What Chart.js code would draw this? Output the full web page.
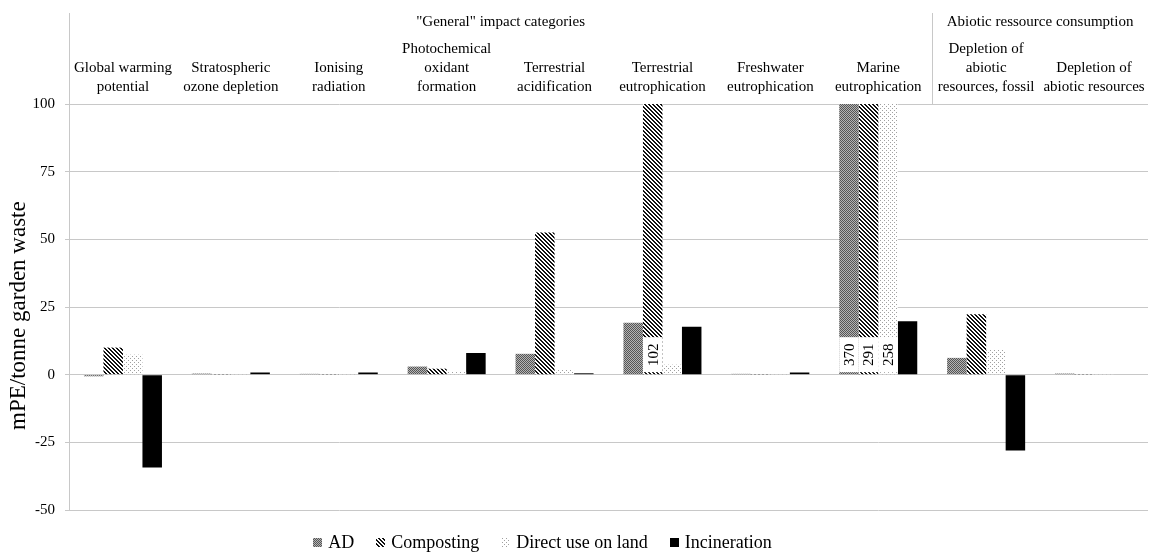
<!DOCTYPE html>
<html>
<head>
<meta charset="utf-8">
<script src="https://cdn.jsdelivr.net/npm/chart.js@4.4.1/dist/chart.umd.min.js"></script>
<style>
  html, body { margin: 0; padding: 0; background: #fff; }
  #wrap { width: 1149px; height: 552px; }
</style>
</head>
<body>
<div id="wrap"><canvas id="chart"></canvas></div>
<script>
// categories (multi-line labels shown above the plot)
const categories = [
  ['Global warming', 'potential'],
  ['Stratospheric', 'ozone depletion'],
  ['Ionising', 'radiation'],
  ['Photochemical', 'oxidant', 'formation'],
  ['Terrestrial', 'acidification'],
  ['Terrestrial', 'eutrophication'],
  ['Freshwater', 'eutrophication'],
  ['Marine', 'eutrophication'],
  ['Depletion of', 'abiotic', 'resources, fossil'],
  ['Depletion of', 'abiotic resources']
];
const groupNames = ['"General" impact categories', 'Abiotic ressource consumption'];
const groupSizes = [8, 2];

const seriesNames = ['AD', 'Composting', 'Direct use on land', 'Incineration'];
const adValues          = [-0.6, 0.4, 0.3, 3.0, 7.7, 19.2, 0.3, 370, 6.2, 0.4];
const compostingValues  = [10.0, 0.1, 0.1, 2.2, 52.5, 102, 0.1, 291, 22.3, 0.1];
const directValues      = [7.4, 0.3, 0.3, 1.0, 1.8, 3.7, 0.3, 258, 9.2, 0.3];
const incinerationValues = [-34.3, 0.8, 0.8, 8.0, 0.5, 17.7, 0.8, 19.7, -28.0, 0.0];

const yTicks = [-50, -25, 0, 25, 50, 75, 100];

const FONT = "'Liberation Serif', 'Times New Roman', serif";
const GRID = '#c8c8c8';

const canvas = document.getElementById('chart');
const ctx = canvas.getContext('2d');

// little bitmap fills, like the Excel pattern fills
function makePattern(size, paint) {
  const c = document.createElement('canvas');
  c.width = size;
  c.height = size;
  const g = c.getContext('2d');
  g.fillStyle = '#fff';
  g.fillRect(0, 0, size, size);
  paint(g, size);
  return ctx.createPattern(c, 'repeat');
}

const adFill = makePattern(2, function(g) {
  g.fillStyle = '#555';
  g.fillRect(0, 0, 1, 1);
  g.fillRect(1, 1, 1, 1);
  g.fillStyle = '#b4b4b4';
  g.fillRect(1, 0, 1, 1);
  g.fillRect(0, 1, 1, 1);
});
const compostFill = makePattern(4, function(g, s) {
  g.fillStyle = '#111';
  for (let y = 0; y < s; y++) {
    for (let x = 0; x < s; x++) {
      if (((x - y) % 4 + 4) % 4 < 2) g.fillRect(x, y, 1, 1);
    }
  }
});
const directFill = makePattern(4, function(g) {
  g.fillStyle = '#a0a0a0';
  g.fillRect(0, 0, 1, 1);
  g.fillRect(2, 2, 1, 1);
});
const fills = [adFill, compostFill, directFill, '#000'];
const seriesValues = [adValues, compostingValues, directValues, incinerationValues];

// header above the plot: group titles + separators
const headerPlugin = {
  id: 'header',
  afterDraw(chart) {
    const { ctx, chartArea } = chart;
    const xs = chart.scales.x;
    const topY = 13;
    ctx.save();
    ctx.strokeStyle = GRID;
    ctx.lineWidth = 1;
    ctx.beginPath();
    ctx.moveTo(Math.round(chartArea.left) + 0.5, topY);
    ctx.lineTo(Math.round(chartArea.left) + 0.5, chartArea.top);
    ctx.stroke();

    ctx.font = '15px ' + FONT;
    ctx.fillStyle = '#000';
    ctx.textAlign = 'center';
    ctx.textBaseline = 'middle';
    let start = 0;
    groupNames.forEach(function(name, gi) {
      const end = start + groupSizes[gi] - 1;
      const left = start === 0 ? chartArea.left : (xs.getPixelForValue(start - 1) + xs.getPixelForValue(start)) / 2;
      const right = end === categories.length - 1 ? chartArea.right : (xs.getPixelForValue(end) + xs.getPixelForValue(end + 1)) / 2;
      ctx.fillText(name, (left + right) / 2, 22);
      if (start > 0) {
        ctx.beginPath();
        ctx.moveTo(Math.round(left) + 0.5, topY);
        ctx.lineTo(Math.round(left) + 0.5, chartArea.top);
        ctx.stroke();
      }
      start = end + 1;
    });
    ctx.restore();
  }
};

// values beyond the axis max are written at the base of the clipped bar
const overflowPlugin = {
  id: 'overflow',
  afterDatasetsDraw(chart) {
    const { ctx } = chart;
    const yMax = chart.scales.y.max;
    ctx.save();
    chart.data.datasets.forEach(function(ds, i) {
      const meta = chart.getDatasetMeta(i);
      ds.data.forEach(function(v, j) {
        if (v <= yMax) return;
        const bar = meta.data[j];
        ctx.fillStyle = '#fff';
        ctx.fillRect(bar.x - bar.width / 2, bar.base - 37, bar.width, 35);
        ctx.save();
        ctx.translate(bar.x, bar.base - 19.5);
        ctx.rotate(-Math.PI / 2);
        ctx.font = '15px ' + FONT;
        ctx.fillStyle = '#000';
        ctx.textAlign = 'center';
        ctx.textBaseline = 'middle';
        ctx.fillText(String(v), 0, 1);
        ctx.restore();
      });
    });
    ctx.restore();
  }
};

// legend at the bottom
const legendPlugin = {
  id: 'bottomLegend',
  afterDraw(chart) {
    const { ctx } = chart;
    const box = 9, gapText = 6, gapItem = 22, cy = 543;
    ctx.save();
    ctx.font = '18px ' + FONT;
    const widths = chart.data.datasets.map(function(ds) { return box + gapText + ctx.measureText(ds.label).width; });
    const total = widths.reduce(function(a, b) { return a + b; }, 0) + gapItem * (widths.length - 1);
    let x = 542.5 - total / 2;
    chart.data.datasets.forEach(function(ds, i) {
      ctx.fillStyle = ds.backgroundColor;
      ctx.fillRect(Math.round(x), cy - 5, box, box);
      ctx.fillStyle = '#000';
      ctx.textAlign = 'left';
      ctx.textBaseline = 'middle';
      ctx.fillText(ds.label, x + box + gapText, cy);
      x += widths[i] + gapItem;
    });
    ctx.restore();
  }
};

new Chart(ctx, {
  type: 'bar',
  data: {
    labels: categories,
    datasets: seriesNames.map(function(name, i) {
      return {
        label: name,
        data: seriesValues[i],
        backgroundColor: fills[i],
        borderWidth: 0,
        barPercentage: 1,
        categoryPercentage: 0.723
      };
    })
  },
  options: {
    responsive: true,
    maintainAspectRatio: false,
    animation: false,
    layout: {
      padding: { top: 33, right: 1, bottom: 42, left: 0 }
    },
    plugins: {
      legend: { display: false },
      tooltip: { enabled: false }
    },
    scales: {
      x: {
        position: 'top',
        grid: { display: false, drawTicks: false },
        border: { display: false },
        afterFit: function(scale) {
          scale.paddingLeft = 0;
          scale.paddingRight = 0;
        },
        ticks: {
          autoSkip: false,
          maxRotation: 0,
          minRotation: 0,
          padding: 7,
          color: '#000',
          font: { family: FONT, size: 15, lineHeight: 19 / 15 }
        }
      },
      y: {
        min: yTicks[0],
        max: yTicks[yTicks.length - 1],
        afterFit: function(scale) { scale.width = 69; },
        afterBuildTicks: function(scale) {
          scale.ticks = yTicks.map(function(v) { return { value: v }; });
        },
        ticks: {
          padding: 10,
          color: '#000',
          font: { family: FONT, size: 15 }
        },
        grid: { color: GRID, lineWidth: 1, tickLength: 4 },
        border: { color: GRID },
        title: {
          display: true,
          text: 'mPE/tonne garden waste   ',
          color: '#000',
          font: { family: FONT, size: 23 },
          padding: { top: 5, bottom: 0 }
        }
      }
    }
  },
  plugins: [headerPlugin, overflowPlugin, legendPlugin]
});
</script>
</body>
</html>
